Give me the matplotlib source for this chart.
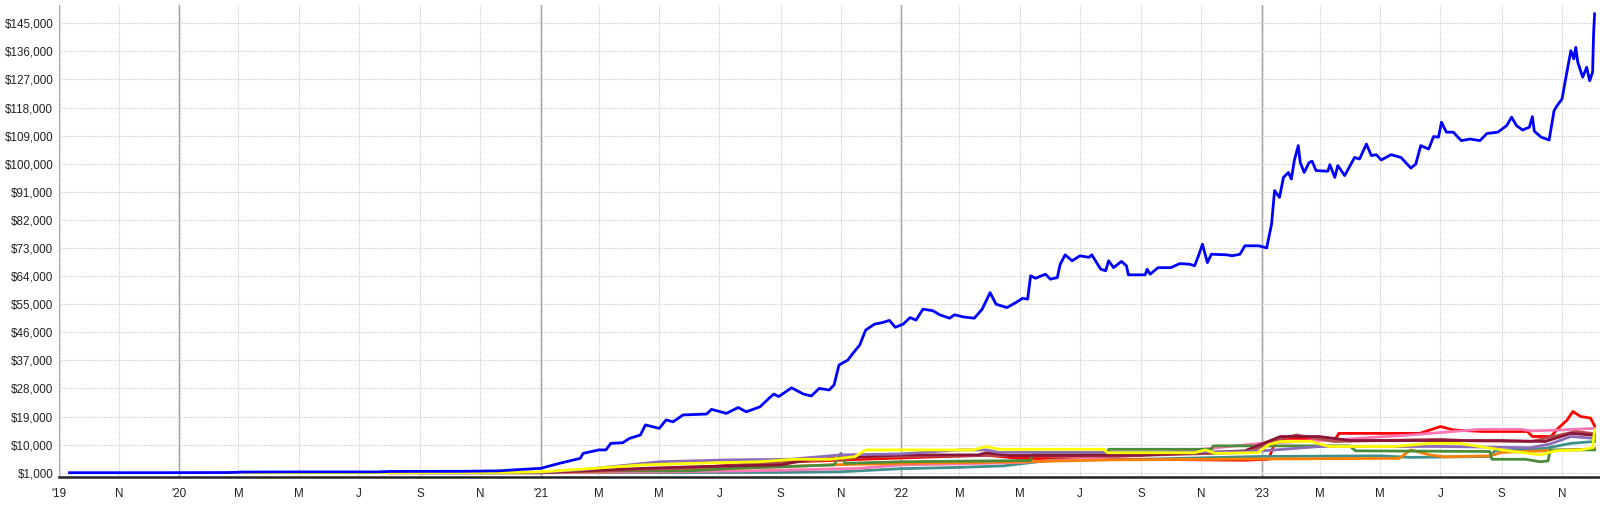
import matplotlib
matplotlib.use("Agg")
import matplotlib.pyplot as plt
import matplotlib.dates as mdates
import numpy as np
import pandas as pd
from matplotlib.ticker import FuncFormatter, FixedLocator

plt.rcParams['font.family'] = ['Liberation Sans', 'DejaVu Sans']

# ---------------- data ----------------
blue_dates = ["2019-09-12","2019-12-15","2020-02-20","2020-03-05","2020-05-01","2020-07-20","2020-08-01",
"2020-10-15","2020-11-20","2020-12-10","2020-12-28",
"2021-01-01","2021-01-20","2021-02-10","2021-02-13","2021-03-01","2021-03-08","2021-03-13","2021-03-25",
"2021-04-01","2021-04-12","2021-04-17","2021-05-01","2021-05-08","2021-05-15","2021-05-25","2021-06-18",
"2021-06-23","2021-07-08","2021-07-20","2021-07-28","2021-08-11","2021-08-20","2021-08-25","2021-08-30",
"2021-09-12","2021-09-24","2021-10-02","2021-10-10","2021-10-20","2021-10-25","2021-10-30","2021-11-08",
"2021-11-13","2021-11-20","2021-11-26","2021-12-05","2021-12-13","2021-12-20","2021-12-26","2022-01-03",
"2022-01-10","2022-01-16","2022-01-23","2022-02-02","2022-02-09","2022-02-19","2022-02-24","2022-03-05",
"2022-03-16","2022-03-24","2022-04-01","2022-04-07","2022-04-18","2022-04-27","2022-05-04","2022-05-09",
"2022-05-12","2022-05-17","2022-05-27","2022-06-01","2022-06-08","2022-06-11","2022-06-16","2022-06-23",
"2022-07-01","2022-07-10","2022-07-13","2022-07-22","2022-07-27","2022-07-30","2022-08-04","2022-08-12",
"2022-08-17","2022-08-19","2022-09-05","2022-09-07","2022-09-10","2022-09-18","2022-10-01","2022-10-10",
"2022-10-20","2022-10-25","2022-10-29","2022-11-02","2022-11-07","2022-11-11","2022-11-27","2022-12-02",
"2022-12-10","2022-12-15","2022-12-29","2023-01-06","2023-01-11","2023-01-14","2023-01-19","2023-01-23",
"2023-01-28","2023-01-31","2023-02-03","2023-02-07","2023-02-09","2023-02-13","2023-02-18","2023-02-21",
"2023-02-25","2023-03-09","2023-03-11","2023-03-16","2023-03-19","2023-03-26","2023-04-05","2023-04-10",
"2023-04-17","2023-04-22","2023-04-27","2023-05-02","2023-05-12","2023-05-22","2023-06-01","2023-06-06",
"2023-06-11","2023-06-19","2023-06-24","2023-06-29","2023-07-02","2023-07-07","2023-07-14","2023-07-22",
"2023-07-31","2023-08-10","2023-08-17","2023-08-28","2023-09-06","2023-09-11","2023-09-16","2023-09-22",
"2023-09-29","2023-10-02","2023-10-04","2023-10-11","2023-10-19","2023-10-24","2023-10-27","2023-11-01",
"2023-11-05","2023-11-10","2023-11-13","2023-11-15","2023-11-17","2023-11-22","2023-11-26","2023-11-29",
"2023-12-02","2023-12-03","2023-12-04"]
blue_values = [1000,1000,1050,1200,1250,1250,1400,
1450,1600,2000,2300,
2400,4000,5600,7200,8300,8300,10400,10600,
12000,13100,16300,15200,17900,17300,19500,19800,
21300,20000,21900,20500,22100,24800,26200,25400,
28200,26200,25600,28000,27500,29100,35500,37100,
39200,41900,46700,48600,49100,49800,47600,48600,
50700,49900,53400,52900,51600,50500,51600,50900,
50500,53400,58700,55000,53900,55500,56900,56600,
64100,63300,64600,63000,63500,67800,70800,68900,
70500,70000,70800,66200,65700,68900,66700,68700,
67300,64400,64400,66200,64600,66700,66700,68000,
67800,67300,70500,74200,68300,71000,70800,70500,
71000,73700,73700,73000,80700,91400,89200,95600,
97200,95100,101000,105800,100400,97200,100400,100800,
97800,97600,99700,95600,99400,96200,102000,101500,
106300,102600,102900,101200,102900,102000,98600,99900,
105800,104700,108700,108500,113300,110100,110100,107400,
107900,107400,109700,110100,112200,114900,112200,110800,
111700,115100,110400,108500,107600,117000,118600,120700,
127700,136200,133600,137300,132500,127700,130900,126600,
129300,141600,148000]

yellow_dates = ["2020-03-05","2020-08-01","2020-12-01","2021-01-01","2021-02-24","2021-04-15","2021-06-05",
"2021-08-10","2021-09-14","2021-10-20","2021-11-15","2021-11-26","2022-03-15","2022-03-28","2022-04-10",
"2022-07-25","2022-07-29","2022-10-25","2022-11-05","2022-11-15","2022-12-28","2023-01-08","2023-01-20",
"2023-02-20","2023-03-10","2023-05-15","2023-06-20","2023-07-20","2023-09-01","2023-10-10","2023-10-25",
"2023-11-20","2023-12-02","2023-12-04"]
yellow_values = [1000,1000,1100,1300,2400,3500,4000,
4500,5300,5300,6100,8300,8300,9400,8500,
8500,7400,7400,8300,7200,7400,10000,11000,
11000,9400,9400,10400,10400,8300,6700,8000,
8300,9000,14700]

purple_dates = ["2020-08-01","2021-01-01","2021-02-10","2021-05-01","2021-07-10","2021-09-10","2021-11-01",
"2021-12-31","2022-03-01","2022-03-28","2022-04-10","2022-10-01","2022-12-15","2023-01-15","2023-03-01",
"2023-06-30","2023-09-30","2023-10-20","2023-11-10","2023-12-04"]
purple_values = [1000,1100,1900,4500,5100,5300,6700,
7000,8300,8300,7500,7600,7700,8300,9400,
9400,9000,10200,12600,12000]

red_dates = ["2020-08-01","2021-01-01","2021-05-01","2021-08-27","2021-10-20","2021-12-01","2022-03-28",
"2022-05-01","2022-09-01","2022-12-15","2023-01-08","2023-01-14","2023-01-25","2023-03-17","2023-03-20",
"2023-06-10","2023-07-01","2023-07-14","2023-08-13","2023-09-27","2023-10-02","2023-10-21","2023-10-27",
"2023-11-06","2023-11-12","2023-11-20","2023-11-30","2023-12-04"]
red_values = [1000,1000,1900,4300,4900,5400,6600,
5600,5300,5000,5300,10400,12000,12000,13600,
13600,15800,14700,14200,14200,12600,12600,14900,
17800,20600,19000,18500,16000]

maroon_dates = ["2020-08-01","2021-01-01","2021-04-15","2021-06-05","2021-09-01","2021-09-28","2021-11-20",
"2022-01-01","2022-03-20","2022-03-28","2022-04-20","2022-09-01","2022-12-15","2023-01-20","2023-02-28",
"2023-04-01","2023-09-01","2023-10-15","2023-11-10","2023-12-04"]
maroon_values = [1000,1050,2400,2900,3500,5100,6100,
6700,6700,7400,6500,6600,8000,12600,12600,
11300,11300,11000,13600,13000]

brown_dates = ["2020-09-01","2021-01-01","2021-06-01","2021-09-15","2021-12-01","2022-04-01","2022-08-01",
"2022-12-20","2023-01-10","2023-02-05","2023-02-25","2023-03-15","2023-07-01","2023-08-01","2023-10-01",
"2023-11-15","2023-12-04"]
brown_values = [1000,1000,2500,4500,6100,6500,6300,
7500,11000,13100,12000,11000,11700,11200,11000,
14200,13500]

orange_dates = ["2020-08-01","2021-01-01","2021-05-01","2021-07-15","2021-09-01","2021-10-20","2022-01-01",
"2022-05-01","2022-08-01","2022-12-31","2023-05-20","2023-06-01","2023-06-20","2023-07-05","2023-08-20",
"2023-09-01","2023-11-30","2023-12-04"]
orange_values = [1000,1000,1900,2400,2900,3500,4000,
4500,5100,5400,5600,8300,6700,6100,6400,
7500,8600,8800]

green_dates = ["2020-09-01","2021-01-01","2021-02-01","2021-06-01","2021-07-15","2021-09-01","2021-10-25",
"2021-11-01","2021-11-05","2022-01-01","2022-05-12","2022-05-14","2022-07-28","2022-07-30","2022-11-11",
"2022-11-13","2023-03-31","2023-04-06","2023-08-20","2023-08-22","2023-09-25","2023-10-10","2023-10-18",
"2023-10-20","2023-12-04"]
green_values = [1000,1000,1600,1600,2400,2900,3500,
7200,4000,4500,4900,6900,6900,8500,8500,
9600,9600,8000,7800,5300,5300,4500,4800,
8300,8300]

pink_dates = ["2020-09-01","2021-01-01","2021-05-15","2021-08-01","2021-09-15","2021-11-20","2022-01-01",
"2022-03-01","2022-05-01","2022-07-01","2022-09-01","2022-11-01","2022-12-31","2023-03-15","2023-06-01",
"2023-08-10","2023-09-20","2023-10-01","2023-11-01","2023-12-04"]
pink_values = [1000,1000,1300,1600,1900,2400,3500,
3800,4300,5300,6700,8500,10400,11500,13100,
14900,14900,14400,14700,15200]

teal_dates = ["2020-09-01","2021-01-01","2021-09-01","2021-11-01","2022-01-01","2022-03-01","2022-04-15",
"2022-06-01","2022-09-01","2022-12-31","2023-05-01","2023-06-01","2023-08-20","2023-08-25","2023-10-15",
"2023-11-10","2023-12-04"]
teal_values = [1000,1000,1100,1300,2300,2700,3200,
5000,5300,6200,6400,5900,6200,8000,8800,
10400,11000]

y_ticks = [1000,10000,19000,28000,37000,46000,55000,64000,73000,82000,91000,100000,109000,118000,127000,136000,145000]
year_lines = ["2019-09-01","2020-01-01","2021-01-01","2022-01-01","2023-01-01"]
month_letters = ["J","F","M","A","M","J","J","A","S","O","N","D"]

# ---------------- plot ----------------
fig = plt.figure(figsize=(16, 5.14), dpi=100)
ax = fig.add_axes([58.7/1600, (514-477.3)/514, 1 - 58.7/1600, (477.3-5)/514])

series = [
    (red_dates, red_values, "#ff0000"),
    (teal_dates, teal_values, "#3f8f8c"),
    (pink_dates, pink_values, "#ff77b4"),
    (orange_dates, orange_values, "#ff8000"),
    (green_dates, green_values, "#4b8c3a"),
    (brown_dates, brown_values, "#b34d4d"),
    (maroon_dates, maroon_values, "#8b1538"),
    (purple_dates, purple_values, "#8c6bb8"),
    (yellow_dates, yellow_values, "#ffff00"),
]
for d, v, c in series:
    ax.plot(pd.to_datetime(d), v, color=c, lw=2.0, solid_joinstyle='round', zorder=3)
ax.plot(pd.to_datetime(blue_dates), blue_values, color="#0000ff", lw=2.0, solid_joinstyle='round', zorder=4)

x0 = pd.Timestamp("2019-09-01")
x1 = pd.Timestamp("2023-12-09 12:00")
ax.set_xlim(x0, x1)
ax.set_ylim(-474, 150850)

ax.yaxis.set_major_locator(FixedLocator(y_ticks))
ax.yaxis.set_major_formatter(FuncFormatter(lambda v, p: "${:,.0f}".format(v)))
ax.xaxis.set_major_locator(mdates.MonthLocator(bymonth=[1, 3, 5, 7, 9, 11]))

def xfmt(v, p):
    d = mdates.num2date(v)
    if d.month == 1 or (d.year == 2019 and d.month == 9):
        return "'" + d.strftime("%y")
    return month_letters[d.month - 1]
ax.xaxis.set_major_formatter(FuncFormatter(xfmt))

ax.tick_params(axis='both', length=0, labelsize=8.4, colors="#222222")
ax.tick_params(axis='y', pad=4)
ax.tick_params(axis='x', pad=8)

ax.grid(True, which='major', color="#cccccc", linestyle=(0, (1, 1)), lw=0.8, zorder=0)
for yl in year_lines:
    ax.axvline(pd.Timestamp(yl), color="#7f7f7f", lw=1.0, zorder=1)

for s in ['top', 'right', 'left']:
    ax.spines[s].set_visible(False)
ax.spines['bottom'].set_color("#222222")
ax.spines['bottom'].set_linewidth(1.8)

fig.savefig("out.png", dpi=100)
